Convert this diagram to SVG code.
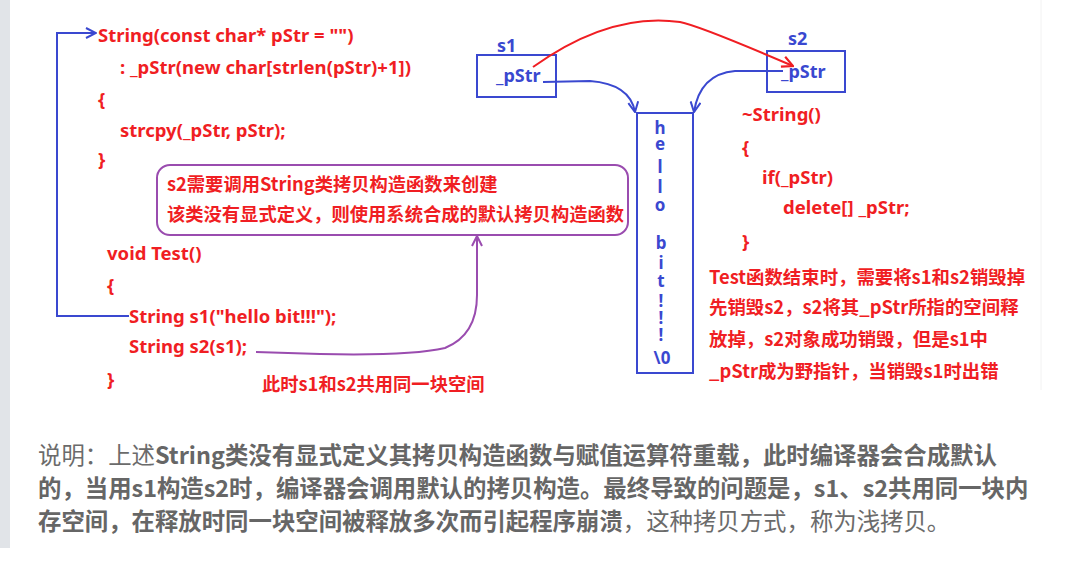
<svg xmlns="http://www.w3.org/2000/svg" width="1079" height="561" viewBox="0 0 1079 561">
<defs>
<style>
.code{font-family:"Noto Sans","Noto Sans CJK SC",sans-serif;font-weight:bold;font-size:18.5px;fill:#f01e23}
.note{font-family:"Noto Sans CJK SC","Noto Sans",sans-serif;font-weight:bold;font-size:18.3px;fill:#f01e23}
.para{font-family:"Noto Sans CJK SC","Noto Sans",sans-serif;font-weight:bold;font-size:18.4px;fill:#f01e23}
.blue{font-family:"Noto Sans","Noto Sans CJK SC",sans-serif;font-weight:bold;font-size:18px;fill:#3a48d0}
.col{font-family:"Noto Sans","Noto Sans CJK SC",sans-serif;font-weight:bold;font-size:17px;fill:#3a48d0}
.desc{font-family:"Noto Sans CJK SC","Noto Sans",sans-serif;font-size:23.4px;fill:#6b6b6b}
.b{font-weight:bold;fill:#666}
.bl{fill:none;stroke:#3a48d0;stroke-width:2}
.rd{fill:none;stroke:#f01e23;stroke-width:2}
.pu{fill:none;stroke:#9a4caf;stroke-width:2}
</style>
<marker id="ab" viewBox="0 0 12 12" refX="11" refY="6" markerWidth="12" markerHeight="12" markerUnits="userSpaceOnUse" orient="auto"><path d="M1,1 L11,6 L1,11" fill="none" stroke="#3a48d0" stroke-width="2"/></marker>
<marker id="ar" viewBox="0 0 12 12" refX="11" refY="6" markerWidth="13" markerHeight="13" markerUnits="userSpaceOnUse" orient="auto"><path d="M1,1 L11,6 L1,11" fill="none" stroke="#f01e23" stroke-width="2"/></marker>
<marker id="ap" viewBox="0 0 12 12" refX="11" refY="6" markerWidth="12" markerHeight="12" markerUnits="userSpaceOnUse" orient="auto"><path d="M1,1 L11,6 L1,11" fill="none" stroke="#9a4caf" stroke-width="2"/></marker>
</defs>
<rect x="0" y="0" width="1079" height="561" fill="#ffffff"/>
<rect x="0" y="0" width="10" height="548" fill="#e1e4e8"/>
<line x1="1041" y1="0" x2="1041" y2="390" stroke="#f2f2f2" stroke-width="1"/>

<g id="constructor">
<text class="code" x="98" y="42">String(const char* pStr = "")</text>
<text class="code" x="120" y="74">: _pStr(new char[strlen(pStr)+1])</text>
<text class="code" x="98" y="106">{</text>
<text class="code" x="120" y="137">strcpy(_pStr, pStr);</text>
<text class="code" x="98" y="166">}</text>
</g>

<g id="note-box">
<rect x="157" y="165" width="471" height="70" rx="13" fill="none" stroke="#9a4caf" stroke-width="2"/>
<text class="note" x="167" y="191">s2需要调用String类拷贝构造函数来创建</text>
<text class="note" x="167" y="221">该类没有显式定义，则使用系统合成的默认拷贝构造函数</text>
</g>

<g id="test">
<text class="code" x="107" y="260">void Test()</text>
<text class="code" x="107" y="292">{</text>
<text class="code" x="129" y="323">String s1("hello bit!!!");</text>
<text class="code" x="129" y="353">String s2(s1);</text>
<text class="code" x="107" y="386">}</text>
<text class="note" x="262" y="391">此时s1和s2共用同一块空间</text>
</g>

<g id="s1">
<rect x="477" y="55" width="79" height="42" fill="none" stroke="#3a48d0" stroke-width="2"/>
<text class="blue" x="497" y="52">s1</text>
<text class="blue" x="496" y="82">_pStr</text>
</g>

<g id="s2">
<rect x="767" y="51" width="78" height="41" fill="none" stroke="#3a48d0" stroke-width="2"/>
<text class="blue" x="788" y="45">s2</text>
<text class="blue" x="781" y="78">_pStr</text>
</g>

<g id="heap">
<rect x="637" y="113" width="56" height="260" fill="none" stroke="#3a48d0" stroke-width="2"/>
<g class="col" text-anchor="middle">
<text x="660" y="134">h</text>
<text x="660" y="150">e</text>
<text x="660" y="173">l</text>
<text x="660" y="193">l</text>
<text x="660" y="211">o</text>
<text x="661" y="249">b</text>
<text x="661" y="269">i</text>
<text x="661" y="287">t</text>
<text x="661" y="307">!</text>
<text x="661" y="324">!</text>
<text x="661" y="341">!</text>
<text x="662" y="364">\0</text>
</g>
</g>

<g id="destructor">
<text class="code" x="742" y="121">~String()</text>
<text class="code" x="742" y="154">{</text>
<text class="code" x="762" y="184">if(_pStr)</text>
<text class="code" x="783" y="214">delete[] _pStr;</text>
<text class="code" x="742" y="248">}</text>
<text class="para" x="709" y="284">Test函数结束时，需要将s1和s2销毁掉</text>
<text class="para" x="709" y="314">先销毁s2，s2将其_pStr所指的空间释</text>
<text class="para" x="709" y="346">放掉，s2对象成功销毁，但是s1中</text>
<text class="para" x="709" y="378">_pStr成为野指针，当销毁s1时出错</text>
</g>

<g id="connectors">
<path class="bl" d="M129,316 L57,316 L57,33 L96,33" marker-end="url(#ab)"/>
<path class="pu" d="M256,352 L320,354 Q410,356 445,348 Q477,335 477,295 L477,236" marker-end="url(#ap)"/>
<path class="rd" d="M533,67 Q610,12 680,22 Q700,26 793,66" marker-end="url(#ar)"/>
<path class="bl" d="M543,82 L590,81 Q630,84 635,112" marker-end="url(#ab)"/>
<path class="bl" d="M783,71 L735,71 Q700,74 694,112" marker-end="url(#ab)"/>
</g>

<g id="description">
<text class="desc" x="38" y="464">说明：上述<tspan class="b">String类没有显式定义其拷贝构造函数与赋值运算符重载，此时编译器会合成默认</tspan></text>
<text class="desc" x="38" y="497"><tspan class="b">的，当用s1构造s2时，编译器会调用默认的拷贝构造。最终导致的问题是，s1、s2共用同一块内</tspan></text>
<text class="desc" x="38" y="530"><tspan class="b">存空间，在释放时同一块空间被释放多次而引起程序崩溃</tspan>，这种拷贝方式，称为浅拷贝。</text>
</g>
</svg>
